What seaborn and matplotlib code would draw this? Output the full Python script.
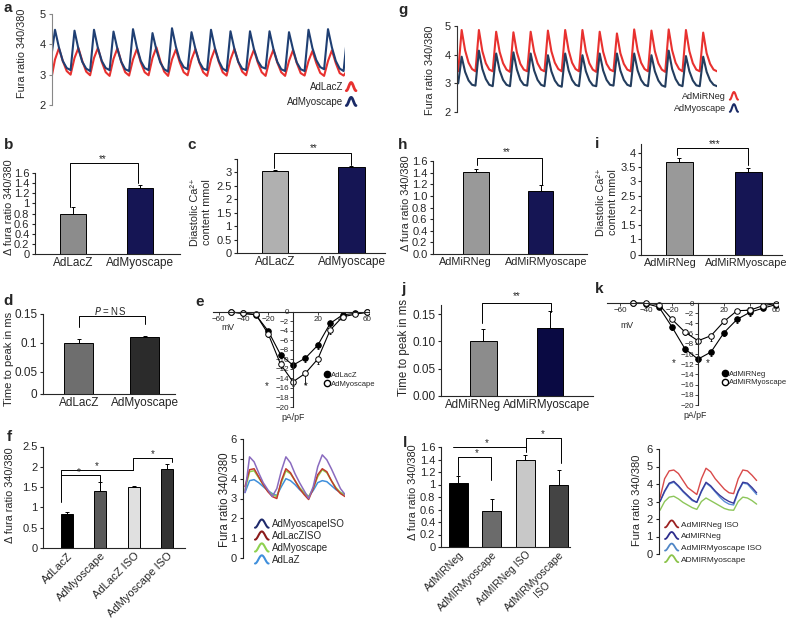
"""
Painel de figuras: transientes de cálcio, barras e curvas I-V.
"""

import matplotlib
matplotlib.use('Agg')

import matplotlib.pyplot as plt
import numpy as np
import seaborn as sns
from matplotlib.legend_handler import HandlerBase
from matplotlib.lines import Line2D

sns.set_style('ticks')
plt.rcParams['font.family'] = ['Liberation Sans', 'DejaVu Sans']
plt.rcParams['axes.linewidth'] = 0.8

W, H = 788, 620

# ---------------- dados ----------------
# a: traçados (5 amostras por batimento)
a_myo = [
    3.55, 4.48, 3.90, 3.45, 3.22,
    3.15, 4.45, 3.85, 3.42, 3.20,
    3.12, 4.48, 3.88, 3.45, 3.22,
    3.15, 4.42, 3.85, 3.42, 3.18,
    3.12, 4.50, 3.90, 3.45, 3.22,
    3.15, 4.37, 3.82, 3.40, 3.18,
    3.10, 4.53, 3.92, 3.48, 3.25,
    3.18, 4.40, 3.85, 3.42, 3.20,
    3.15, 4.48, 3.88, 3.45, 3.20,
    3.12, 4.43, 3.85, 3.42, 3.20,
    3.15, 4.43, 3.85, 3.45, 3.25,
    3.20, 4.43, 3.85, 3.42, 3.18,
    3.12, 4.40, 3.85, 3.40, 3.18,
    3.12, 4.48, 3.88, 3.48, 3.25,
    3.18, 4.50, 3.90, 3.45, 3.20,
    3.12, 4.40,
]
a_lacz = [
    2.83, 3.50, 3.87, 3.45, 3.12,
    3.00, 3.55, 3.88, 3.45, 3.10,
    2.98, 3.55, 3.88, 3.42, 3.08,
    2.96, 3.52, 3.87, 3.42, 3.08,
    2.97, 3.50, 3.85, 3.40, 3.08,
    2.98, 3.55, 3.90, 3.45, 3.10,
    2.96, 3.50, 3.83, 3.40, 3.08,
    2.98, 3.50, 3.84, 3.40, 3.08,
    2.96, 3.50, 3.85, 3.42, 3.08,
    2.97, 3.50, 3.85, 3.42, 3.10,
    2.98, 3.48, 3.82, 3.40, 3.08,
    2.96, 3.48, 3.82, 3.40, 3.08,
    2.96, 3.45, 3.80, 3.38, 3.05,
    2.97, 3.45, 3.78, 3.38, 3.06,
    2.96, 3.45, 3.80, 3.38, 3.05,
    2.97, 3.15,
]

# g: traçados
g_neg = [
    3.42, 4.86, 4.15, 3.72, 3.50,
    3.42, 4.86, 4.12, 3.70, 3.48,
    3.42, 4.80, 4.10, 3.70, 3.48,
    3.40, 4.78, 4.08, 3.68, 3.48,
    3.42, 4.80, 4.10, 3.70, 3.48,
    3.42, 4.84, 4.12, 3.72, 3.50,
    3.42, 4.86, 4.15, 3.72, 3.50,
    3.42, 4.86, 4.12, 3.70, 3.48,
    3.40, 4.80, 4.10, 3.68, 3.48,
    3.42, 4.74, 4.05, 3.68, 3.48,
    3.42, 4.88, 4.15, 3.72, 3.50,
    3.42, 4.84, 4.12, 3.70, 3.48,
    3.40, 4.88, 4.15, 3.72, 3.50,
    3.42, 4.86, 4.12, 3.70, 3.48,
    3.42, 4.77, 4.05, 3.68, 3.48,
    3.42,
]
g_myo = [
    3.00, 3.93, 3.40, 3.10, 2.95,
    2.92, 4.14, 3.50, 3.15, 2.95,
    2.90, 4.04, 3.45, 3.12, 2.95,
    2.90, 4.08, 3.48, 3.12, 2.95,
    2.92, 4.04, 3.45, 3.12, 2.95,
    2.90, 3.98, 3.42, 3.10, 2.93,
    2.88, 4.04, 3.45, 3.12, 2.95,
    2.90, 3.98, 3.42, 3.10, 2.93,
    2.90, 4.04, 3.45, 3.12, 2.95,
    2.92, 4.04, 3.45, 3.12, 2.95,
    2.90, 4.04, 3.45, 3.12, 2.95,
    2.90, 3.98, 3.42, 3.10, 2.93,
    2.88, 4.14, 3.50, 3.15, 2.95,
    2.90, 3.95, 3.42, 3.10, 2.93,
    2.90, 3.93, 3.40, 3.10, 2.95,
    2.90,
]

# b, c, d (AdLacZ x AdMyoscape)
cat_bd = ['AdLacZ', 'AdMyoscape']
b_vals, b_err = [0.80, 1.31], [0.12, 0.05]
c_vals, c_err = [3.06, 3.20], [0.02, 0.03]
d_vals, d_err = [0.100, 0.110], [0.006, 0.002]

# h, i, j (AdMiRNeg x AdMiRMyoscape)
cat_hj = ['AdMiRNeg', 'AdMiRMyoscape']
h_vals, h_err = [1.41, 1.08], [0.05, 0.11]
i_vals, i_err = [3.67, 3.33], [0.16, 0.15]
j_vals, j_err = [0.100, 0.125], [0.022, 0.030]

# e, k: curvas I-V
volt = [-50, -40, -30, -20, -10, 0, 10, 20, 30, 40, 50, 60]
e_lacz = [0, -0.3, -0.6, -4.0, -9.0, -11.2, -9.7, -7.0, -2.4, -0.6, -0.3, -0.1]
e_lacz_err = [0, 0, 0.2, 0.5, 0.6, 0.6, 0.8, 0.7, 0.6, 0.3, 0.2, 0]
e_myo = [0, -0.3, -0.5, -4.6, -11.0, -14.7, -12.9, -9.9, -3.8, -1.0, -0.5, 0]
e_myo_err = [0, 0, 0.2, 0.6, 0.8, 0.8, 2.2, 1.0, 0.8, 0.5, 0.3, 0]
k_neg = [0, -0.1, -0.8, -4.7, -9.0, -11.0, -9.6, -5.8, -3.2, -1.8, -1.0, -0.3]
k_neg_err = [0, 0, 0.2, 0.6, 0.6, 0.6, 0.8, 0.7, 0.7, 0.8, 0.3, 0.2]
k_myo = [0, 0, -0.3, -3.2, -5.7, -7.4, -6.4, -3.6, -1.5, -1.4, -0.5, -0.1]
k_myo_err = [0, 0, 0.2, 0.4, 0.5, 0.5, 1.0, 0.5, 0.4, 0.4, 0.2, 0.1]

# f, l: barras com ISO
cat_f = ['AdLacZ', 'AdMyoscape', 'AdLacZ ISO', 'AdMyoscape ISO']
f_vals, f_err = [0.83, 1.40, 1.51, 1.95], [0.05, 0.23, 0.02, 0.12]
cat_l = ['AdMIRNeg', 'AdMIRMyoscape', 'AdMIRNeg ISO', 'AdMIRMyoscape\nISO']
l_vals, l_err = [1.02, 0.58, 1.40, 0.99], [0.12, 0.19, 0.07, 0.24]

# insets de f e l (8 amostras por batimento)
f_myo_iso = [3.30, 5.10, 4.85, 4.30, 3.80, 3.45, 3.10, 3.50, 4.40, 5.10, 4.80, 4.25,
             3.80, 3.40, 3.00, 3.60, 4.60, 5.20, 4.95, 4.50, 4.00, 3.50, 3.20]
f_lacz_iso = [3.60, 4.45, 4.50, 4.10, 3.70, 3.35, 3.10, 3.00, 3.90, 4.50, 4.30, 3.90,
              3.50, 3.20, 2.95, 3.50, 4.20, 4.50, 4.35, 3.90, 3.50, 3.25, 3.10]
f_myo = [3.40, 4.35, 4.40, 4.05, 3.70, 3.40, 3.20, 3.10, 3.80, 4.40, 4.25, 3.90,
         3.55, 3.30, 3.10, 3.50, 4.10, 4.45, 4.30, 3.90, 3.55, 3.30, 3.20]
f_lacz = [3.30, 3.90, 3.95, 3.80, 3.60, 3.40, 3.25, 3.15, 3.60, 4.00, 3.90, 3.70,
          3.45, 3.25, 3.10, 3.40, 3.80, 3.90, 3.85, 3.65, 3.45, 3.30, 3.20]

l_neg_iso = [3.20, 4.30, 4.75, 4.80, 4.60, 4.20, 3.80, 3.60, 3.40, 4.30, 4.90,
             4.70, 4.30, 4.00, 3.70, 3.50, 3.45, 4.30, 4.80, 4.75, 4.50, 4.20]
l_neg = [3.00, 3.60, 4.05, 4.15, 3.90, 3.60, 3.35, 3.10, 2.95, 3.60, 4.10,
         3.90, 3.60, 3.35, 3.15, 3.00, 2.90, 3.60, 4.10, 4.05, 3.80, 3.50]
l_myo_iso = [3.00, 3.55, 4.00, 4.10, 3.85, 3.55, 3.30, 3.05, 2.95, 3.55, 4.05,
             3.85, 3.55, 3.25, 3.00, 2.85, 2.80, 3.55, 4.05, 4.00, 3.70, 3.40]
l_myo = [2.50, 3.00, 3.25, 3.30, 3.15, 2.95, 2.80, 2.65, 2.55, 3.00, 3.20,
         3.05, 2.90, 2.75, 2.60, 2.52, 2.50, 3.00, 3.25, 3.20, 3.05, 2.85]

RED = '#e8312f'
NAVY = '#0b0b5e'


# ---------------- utilidades ----------------
def box(x0, y0, x1, y1):
    return [x0 / W, 1 - y1 / H, (x1 - x0) / W, (y1 - y0) / H]


def txt(x, y, s, **kw):
    kw.setdefault('ha', 'center')
    kw.setdefault('va', 'center')
    fig.text(x / W, 1 - y / H, s, **kw)


class Squiggle(HandlerBase):
    """Ícone de legenda em forma de onda."""

    def create_artists(self, legend, orig_handle, xdescent, ydescent,
                       width, height, fontsize, trans):
        s = np.linspace(0, 1, 30)
        wave = 0.5 - 0.5 * np.cos(2 * np.pi * s)
        line = Line2D(s * width - xdescent, wave * height * 1.2 - ydescent - 0.1 * height,
                      color=orig_handle.get_color(), lw=orig_handle.get_linewidth())
        line.set_transform(trans)
        return [line]


def trace_axes(rect, series, colors, xlim, ylim, yticks, lw=1.3, spine='#888888'):
    ax = fig.add_axes(rect)
    for vals, col in zip(series, colors):
        sns.lineplot(x=np.arange(len(vals)), y=vals, color=col, lw=lw, ax=ax,
                     solid_joinstyle='round')
    ax.set_xlim(xlim)
    ax.set_ylim(ylim)
    ax.set_yticks(yticks)
    ax.set_xticks([])
    for s in ['top', 'right', 'bottom']:
        ax.spines[s].set_visible(False)
    ax.spines['left'].set_color(spine)
    ax.tick_params(axis='y', length=2.5, labelsize=8, pad=2, color=spine)
    ax.set_xlabel('')
    ax.set_ylabel('')
    return ax


def bar_axes(rect, cats, vals, errs, colors, width, xlim, ylim, yticks, ylabels,
             rot=False, xsize=8, tickpos=None):
    ax = fig.add_axes(rect)
    sns.barplot(x=cats, y=vals, hue=cats, palette=colors, width=width,
                edgecolor='black', linewidth=0.7, legend=False, ax=ax)
    ax.errorbar(np.arange(len(vals)), vals, yerr=[np.zeros(len(vals)), errs],
                fmt='none', ecolor='black', elinewidth=0.7, capsize=1.5, capthick=0.7)
    ax.set_xlim(xlim)
    ax.set_ylim(ylim)
    ax.set_yticks(yticks)
    ax.set_yticklabels(ylabels)
    if tickpos is not None:
        ax.set_xticks(tickpos)
        ax.set_xticklabels(cats)
    sns.despine(ax=ax)
    ax.tick_params(axis='x', length=0, labelsize=xsize, pad=2)
    ax.tick_params(axis='y', length=2.5, labelsize=8, pad=1.5)
    if rot:
        for lab in ax.get_xticklabels():
            lab.set_rotation(45)
            lab.set_ha('right')
            lab.set_rotation_mode('anchor')
            lab.set_multialignment('center')
    ax.set_xlabel('')
    ax.set_ylabel('')
    return ax


def bracket(ax, xs, ys, star, sx, sy, size=7):
    ax.plot(xs, ys, color='black', lw=0.7, clip_on=False)
    ax.text(sx, sy, star, ha='center', va='center', fontsize=size, clip_on=False)


def iv_axes(rect, xlim, ylim, s1, e1, s2, e2, lab1, lab2, anchor):
    ax = fig.add_axes(rect)
    for vals, errs, fc, lab in [(s1, e1, 'black', lab1), (s2, e2, 'white', lab2)]:
        ax.errorbar(volt, vals, yerr=[errs, np.zeros(len(errs))], fmt='none',
                    ecolor='black', elinewidth=0.6, capsize=1, capthick=0.6)
        sns.lineplot(x=volt, y=vals, color='black', lw=0.8, marker='o', markersize=4,
                     markerfacecolor=fc, markeredgecolor='black', markeredgewidth=0.7,
                     ax=ax)
    ax.set_xlim(xlim)
    ax.set_ylim(ylim)
    ax.spines['left'].set_position(('data', 0))
    ax.spines['bottom'].set_position(('data', 0))
    ax.spines['left'].set_bounds(-20, 0)
    ax.spines['top'].set_visible(False)
    ax.spines['right'].set_visible(False)
    ax.set_xticks([-60, -40, -20, 20, 40, 60])
    ax.set_yticks(np.arange(-20, 1, 2))
    ax.tick_params(labelsize=5.8, length=2, pad=1, width=0.6)
    ax.set_xlabel('')
    ax.set_ylabel('')
    handles = [Line2D([], [], ls='none', marker='o', markersize=4.5, mfc='black', mec='black'),
               Line2D([], [], ls='none', marker='o', markersize=4.5, mfc='white', mec='black')]
    ax.legend(handles, [lab1, lab2], loc='upper left', bbox_to_anchor=anchor, frameon=False,
              fontsize=5.5, handletextpad=0.2, labelspacing=0.15, borderpad=0,
              borderaxespad=0, handlelength=0.8)
    return ax


fig = plt.figure(figsize=(W / 100, H / 100), dpi=100)

# ---------------- a ----------------
ax_a = trace_axes(box(52, 14, 345, 105), [a_lacz, a_myo], [RED, '#1f3f73'],
                  (0.23, 75.36), (2, 5), [2, 3, 4, 5], lw=1.5)
ax_a.legend([Line2D([], [], color=RED, lw=2), Line2D([], [], color='#1a2a66', lw=2)],
            ['AdLacZ', 'AdMyoscape'], handler_map={Line2D: Squiggle()},
            loc='upper right', bbox_to_anchor=(356 / W, 1 - 82 / H),
            bbox_transform=fig.transFigure, frameon=False, fontsize=7,
            markerfirst=False, handlelength=1.0, handletextpad=0.3,
            labelspacing=0.5, borderpad=0, borderaxespad=0)

# ---------------- g ----------------
ax_g = trace_axes(box(457, 26, 717, 112), [g_neg, g_myo], [RED, '#233d5e'],
                  (-0.35, 75.0), (2, 5), [2, 3, 4, 5], lw=1.5, spine='#333333')
ax_g.legend([Line2D([], [], color=RED, lw=1.5), Line2D([], [], color='#1a2a66', lw=1.5)],
            ['AdMiRNeg', 'AdMyoscape'], handler_map={Line2D: Squiggle()},
            loc='upper right', bbox_to_anchor=(738 / W, 1 - 92 / H),
            bbox_transform=fig.transFigure, frameon=False, fontsize=6.5,
            markerfirst=False, handlelength=0.9, handletextpad=0.4,
            labelspacing=0.35, borderpad=0, borderaxespad=0)

# ---------------- b, c ----------------
ax_b = bar_axes(box(35, 173, 180, 254), cat_bd, b_vals, b_err, ['#8c8c8c', NAVY], 0.39,
                (-0.567, 1.597), (0, 1.6), np.arange(0, 1.61, 0.2),
                ['0', '0.2', '0.4', '0.6', '0.8', '1', '1.2', '1.4', '1.6'], xsize=8.5)
bracket(ax_b, [-0.04, -0.04, 0.97, 0.97], [0.93, 1.80, 1.80, 1.40], '**', 0.45, 1.87)

ax_c = bar_axes(box(237, 159, 385, 253), cat_bd, c_vals, c_err, ['#b0b0b0', NAVY], 0.35,
                (-0.497, 1.438), (0, 3.5), np.arange(0, 3.51, 0.5),
                ['0', '0.5', '1', '1.5', '2', '2.5', '3', ''], xsize=8.5)
bracket(ax_c, [-0.01, -0.01, 1.0, 1.0], [3.16, 3.72, 3.72, 3.28], '**', 0.5, 3.92)

# ---------------- h, i ----------------
ax_h = bar_axes(box(433, 161, 587, 254), cat_hj, h_vals, h_err, ['#999999', NAVY], 0.4,
                (-0.667, 1.72), (0, 1.6), np.arange(0, 1.61, 0.2),
                [f'{v:.1f}' for v in np.arange(0, 1.61, 0.2)],
                xsize=7.8, tickpos=[-0.16, 1.09])
bracket(ax_h, [0.02, 0.02, 1.02, 1.02], [1.53, 1.65, 1.65, 1.19], '**', 0.48, 1.75)

ax_i = bar_axes(box(641, 144, 782, 255), cat_hj, i_vals, i_err, ['#999999', NAVY], 0.39,
                (-0.558, 1.486), (0.45, 4.3), [0.45, 1, 1.5, 2, 2.5, 3, 3.5, 4],
                ['0', '1', '1.5', '2', '2.5', '3', '3.5', '4'],
                xsize=7.8, tickpos=[-0.13, 0.97])
bracket(ax_i, [-0.04, -0.04, 1.0, 1.0], [3.92, 4.16, 4.16, 3.58], '***', 0.51, 4.31)

# ---------------- d, j ----------------
ax_d = bar_axes(box(43, 314, 175, 394), cat_bd, d_vals, d_err, ['#6e6e6e', '#2b2b2b'], 0.44,
                (-0.545, 1.455), (0.0116, 0.15), [0.0116, 0.05, 0.1, 0.15],
                ['0', '0.05', '0.1', '0.15'], xsize=8.5)
ax_d.tick_params(axis='y', labelsize=8.5)
ax_d.plot([0, 0, 1, 1], [0.127, 0.146, 0.146, 0.133], color='black', lw=0.7, clip_on=False)
ax_d.text(0.47, 0.156, '$P$ = NS', ha='center', va='center', fontsize=7)

ax_j = bar_axes(box(441, 305, 593, 396), cat_hj, j_vals, j_err, ['#8c8c8c', '#00004d'], 0.4,
                (-0.639, 1.647), (0, 0.1665), [0, 0.05, 0.1, 0.15],
                ['0.00', '0.05', '0.10', '0.15'], xsize=8.3, tickpos=[-0.16, 0.95])
ax_j.tick_params(axis='y', labelsize=8.5)
bracket(ax_j, [-0.02, -0.02, 1.01, 1.01], [0.134, 0.170, 0.170, 0.154], '**', 0.5, 0.183)

# ---------------- e, k ----------------
ax_e = iv_axes(box(213, 309, 369, 407), (-64.5, 61.3), (-20, 0.63),
               e_lacz, e_lacz_err, e_myo, e_myo_err, 'AdLacZ', 'AdMyoscape', (0.71, 0.36))
ax_e.text(-21, -15.6, '*', ha='center', va='center', fontsize=7)
ax_e.text(10.5, -15.6, '*', ha='center', va='center', fontsize=7)

ax_k = iv_axes(box(607, 300, 778, 405), (-70, 61.5), (-20, 0.6),
               k_neg, k_neg_err, k_myo, k_myo_err, 'AdMiRNeg', 'AdMiRMyoscape', (0.67, 0.33))
ax_k.text(-19, -11.8, '*', ha='center', va='center', fontsize=7)
ax_k.text(7.7, -11.8, '*', ha='center', va='center', fontsize=7)

# ---------------- f, l ----------------
ax_f = bar_axes(box(43, 446.5, 185, 548), cat_f, f_vals, f_err,
                ['#000000', '#5a5a5a', '#e0e0e0', '#333333'], 0.36,
                (-0.72, 3.54), (0, 2.5), np.arange(0, 2.51, 0.5),
                ['0', '0.5', '1', '1.5', '2', '2.5'], rot=True)
bracket(ax_f, [-0.18, -0.18, 1.0, 1.0], [1.13, 1.80, 1.80, 1.43], '*', 0.36, 1.88)
bracket(ax_f, [-0.18, -0.18, 1.98], [1.80, 1.92, 1.92], '*', 0.9, 2.03)
bracket(ax_f, [1.98, 1.98, 3.15, 3.15], [1.92, 2.22, 2.22, 2.12], '*', 2.58, 2.31)

ax_l = bar_axes(box(441, 447, 570, 547), cat_l, l_vals, l_err,
                ['#000000', '#6b6b6b', '#c8c8c8', '#444444'], 0.57,
                (-0.52, 3.33), (0, 1.6), np.arange(0, 1.61, 0.2),
                ['0', '0.2', '0.4', '0.6', '0.8', '1', '1.2', '1.4', '1.6'],
                rot=True, xsize=7.5)
bracket(ax_l, [0, 0, 0.97, 0.97], [1.15, 1.44, 1.44, 1.07], '*', 0.55, 1.50)
bracket(ax_l, [-0.16, 2.03], [1.6, 1.6], '*', 0.85, 1.67)
bracket(ax_l, [2.03, 2.03, 3.06, 3.06], [1.52, 1.74, 1.74, 1.34], '*', 2.52, 1.80)

# insets
ax_fi = trace_axes(box(243, 439, 345, 558),
                   [f_lacz, f_myo, f_lacz_iso, f_myo_iso],
                   ['#3f8fdc', '#8fd14f', '#c0392b', '#8a6bbf'],
                   (-0.44, 22.0), (0, 6), range(7), lw=1.1, spine='#222222')
ax_fi.tick_params(labelsize=8)
ax_fi.legend([Line2D([], [], color=c, lw=1.5) for c in ['#1f2a6b', '#8b1a1a', '#8fd14f', '#3f8fdc']],
             ['AdMyoscapeISO', 'AdLacZISO', 'AdMyoscape', 'AdLaZ'],
             handler_map={Line2D: Squiggle()}, loc='upper left',
             bbox_to_anchor=(255 / W, 1 - 519 / H), bbox_transform=fig.transFigure,
             frameon=False, fontsize=7, handlelength=1.4, handletextpad=0.3,
             labelspacing=0.2, borderpad=0, borderaxespad=0)

ax_li = trace_axes(box(659, 449, 758, 554),
                   [l_myo, l_myo_iso, l_neg, l_neg_iso],
                   ['#8dc65a', '#5b8fd6', '#3a3a9a', '#d94a4a'],
                   (-0.22, 21.3), (0, 6), range(7), lw=1.0, spine='#222222')
ax_li.tick_params(labelsize=8)
ax_li.legend([Line2D([], [], color=c, lw=1.3) for c in ['#9b2020', '#2c2c8c', '#4f86c6', '#8bc34a']],
             ['AdMIRNeg ISO', 'AdMIRNeg', 'AdMIRMyoscape ISO', 'ADMIRMyoscape'],
             handler_map={Line2D: Squiggle()}, loc='upper left',
             bbox_to_anchor=(665 / W, 1 - 521 / H), bbox_transform=fig.transFigure,
             frameon=False, fontsize=6, handlelength=1.6, handletextpad=0.3,
             labelspacing=0.45, borderpad=0, borderaxespad=0)

# ---------------- rótulos ----------------
ylab = dict(rotation=90, fontsize=7.8)
txt(22, 53, 'Fura ratio 340/380', **ylab)
txt(430, 70, 'Fura ratio 340/380', **ylab)
txt(9, 207, 'Δ fura ratio 340/380', **ylab)
txt(201, 212, 'Diastolic Ca²⁺\ncontent mmol', multialignment='center', **ylab)
txt(406, 203, 'Δ fura ratio 340/380', **ylab)
txt(607, 202, 'Diastolic Ca²⁺\ncontent mmol', multialignment='center', **ylab)
txt(9, 359, 'Time to peak in ms', rotation=90, fontsize=8)
txt(404, 348, 'Time to peak in ms', rotation=90, fontsize=8.3)
txt(10, 495, 'Δ fura ratio 340/380', **ylab)
txt(413, 492, 'Δ fura ratio 340/380', **ylab)
txt(225, 500, 'Fura ratio 340/380', rotation=90, fontsize=8.3)
txt(637, 500, 'Fura ratio 340/380', rotation=90, fontsize=8)

txt(228, 327, 'mV', fontsize=6.3)
txt(293, 417, 'pA/pF', fontsize=6.3)
txt(627, 326, 'mV', fontsize=6.3)
txt(695, 416, 'pA/pF', fontsize=6.3)

panel = dict(fontsize=11, fontweight='bold')
for lab, x, y in [('a', 8, 8), ('b', 9, 145), ('c', 192, 145), ('d', 8, 301),
                  ('e', 200, 302), ('f', 9, 437), ('g', 403, 10), ('h', 403, 145),
                  ('i', 597, 144), ('j', 403, 289), ('k', 599, 289), ('l', 405, 443)]:
    txt(x, y, lab, **panel)

fig.savefig('out.png', dpi=100)
plt.close(fig)
